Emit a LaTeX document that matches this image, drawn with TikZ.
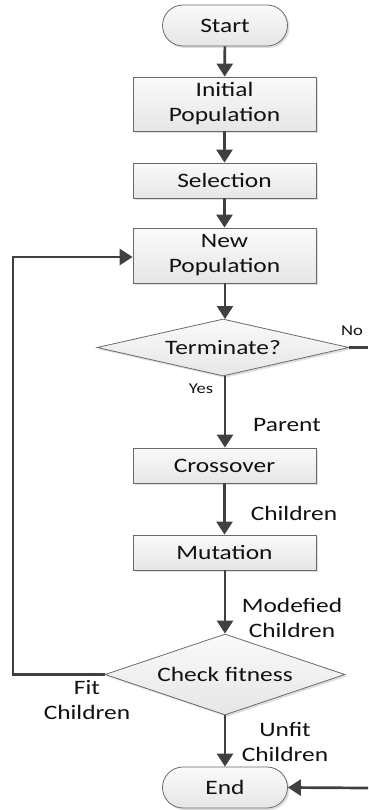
\documentclass[tikz,border=0pt]{standalone}
\usepackage{fontspec}
\setmainfont[FakeStretch=1.24]{Carlito}
\usetikzlibrary{shapes.geometric,shapes.misc,arrows.meta,shadows}
\definecolor{linec}{HTML}{404040}
\definecolor{boxline}{HTML}{6A6A6A}
\definecolor{txt}{HTML}{111111}
\definecolor{ftop}{HTML}{FAFAFA}
\definecolor{fbot}{HTML}{E6E6E6}
\begin{document}
\begin{tikzpicture}[x=1pt,y=-1pt,
  base/.style={draw=boxline, line width=0.8pt, top color=ftop, bottom color=fbot,
    text=txt, font=\fontsize{20.5}{25}\selectfont, align=center, inner sep=0pt,
    drop shadow={shadow xshift=2pt, shadow yshift=-2pt, opacity=0.25, fill=gray}},
  procbox/.style={base, rectangle, minimum width=183pt},
  termbox/.style={base, rounded rectangle, minimum width=125pt, minimum height=41pt},
  decbox/.style={base, diamond, aspect=4},
  conn/.style={draw=linec, line width=2.7pt, -{Triangle[width=16pt,length=13pt]}},
  plain/.style={draw=linec, line width=2.7pt},
  lbl/.style={text=txt, font=\fontsize{20.5}{25}\selectfont, align=center, inner sep=0pt},
  slbl/.style={text=txt, font=\fontsize{15}{18}\selectfont, inner sep=0pt}]
\useasboundingbox (0,0) rectangle (368,810);

\node[termbox] (start) at (225,25.5) {Start};
\node[procbox, minimum height=54pt] (init) at (224.5,104) {Initial\\Population};
\node[procbox, minimum height=35pt] (sel) at (224.5,180.5) {Selection};
\node[procbox, minimum height=55pt] (newp) at (224.5,255.5) {New\\Population};
\node[decbox, minimum width=252pt, minimum height=57pt] (term) at (223,347.5) {Terminate?};
\node[procbox, minimum height=35pt] (cross) at (224.5,465.5) {Crossover};
\node[procbox, minimum height=35pt] (mut) at (224.5,552.5) {Mutation};
\node[decbox, minimum width=240pt, minimum height=81pt] (check) at (225,674.5) {Check fitness};
\node[termbox] (end) at (225,787.5) {End};

\coordinate (noend) at (368,347.5);
\coordinate (endin) at (368,788);
\coordinate (lb) at (13,674.5);
\coordinate (lt) at (13,257);

\draw[conn] (start) -- (init);
\draw[conn] (init) -- (sel);
\draw[conn] (sel) -- (newp);
\draw[conn] (newp.south -| 225,0) -- (225,319);
\draw[conn] (225,376) -- (cross.north -| 225,0);
\draw[conn] (cross) -- (mut);
\draw[conn] (mut.south -| 225,0) -- (check.north);
\draw[conn] (check) -- (end);
\draw[plain] (term.east) -- (noend);
\draw[conn] (endin) -- (end.east);
\draw[conn] (check.west) -- (lb) -- (lt) -- (newp.west |- lt);

\node[slbl] (no) at (352,331) {No};
\node[slbl] (yes) at (201,389) {Yes};
\node[lbl] (parent) at (287,425) {Parent};
\node[lbl] (ch1) at (294,513) {Children};
\node[lbl] (modch) at (292,617.5) {Modefied\\Children};
\node[lbl] (fitch) at (87,700) {Fit\\Children};
\node[lbl] (unfitch) at (285,741.5) {Unfit\\Children};
\end{tikzpicture}
\end{document}
